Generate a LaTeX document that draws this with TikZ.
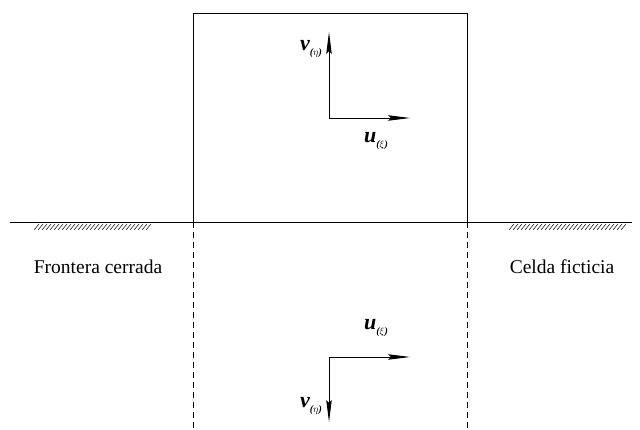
\documentclass[tikz,border=0pt]{standalone}
\usepackage{fontspec}
\setmainfont{Liberation Serif}
\usetikzlibrary{arrows.meta}
\tikzset{
  vec/.style={line width=0.9pt, -{Stealth[length=22pt,width=5.5pt,inset=3pt]}},
  lbl/.style={font=\fontsize{19.5}{22}\selectfont, inner sep=0pt},
  vlbl/.style={font=\fontsize{22}{24}\selectfont\bfseries\itshape, inner sep=0pt},
  hatch/.style={line width=0.5pt},
  wall/.style={line width=0.8pt},
  ghost/.style={line width=0.6pt, dash pattern=on 6pt off 4pt}
}
\newcommand{\subeta}{\raisebox{-0.45ex}{\fontsize{10}{11}\selectfont($\eta$)}}
\newcommand{\subxi}{\raisebox{-0.45ex}{\fontsize{10}{11}\selectfont($\xi$)}}
\begin{document}
\begin{tikzpicture}[x=1pt,y=-1pt]
\useasboundingbox (0,0) rectangle (640,430);
% main line and box
\coordinate (L) at (10,222);
\coordinate (R) at (632,222);
\coordinate (BL) at (193,222);
\coordinate (BR) at (467,222);
\coordinate (TL) at (193,13);
\coordinate (TR) at (467,13);
\coordinate (DL) at (193,430);
\coordinate (DR) at (467,430);
\draw[wall] (L) -- (R);
\draw[wall] (BL) -- (TL) -- (TR) -- (BR);
\draw[ghost] (BL) -- (DL);
\draw[ghost] (BR) -- (DR);
% hatching
\foreach \x in {34,38,...,146} \draw[hatch] (\x,230) -- (\x+5,224);
\foreach \x in {509,513,...,623} \draw[hatch] (\x,230) -- (\x+5,224);
% labels
\node[lbl] (fc) at (98,267) {Frontera cerrada};
\node[lbl] (cf) at (562,267) {Celda ficticia};
% upper vectors
\coordinate (O1) at (329,118);
\coordinate (V1) at (329,32);
\coordinate (U1) at (410,118);
\draw[vec] (O1) -- (V1);
\draw[vec] (O1) -- (U1);
\node[vlbl] (v1) at (311,49) {v\subeta};
\node[vlbl] (u1) at (376,141) {u\subxi};
% lower vectors
\coordinate (O2) at (329,357);
\coordinate (V2) at (329,422);
\coordinate (U2) at (410,357);
\draw[vec] (O2) -- (V2);
\draw[vec] (O2) -- (U2);
\node[vlbl] (u2) at (376,328) {u\subxi};
\node[vlbl] (v2) at (311,406) {v\subeta};
\end{tikzpicture}
\end{document}
